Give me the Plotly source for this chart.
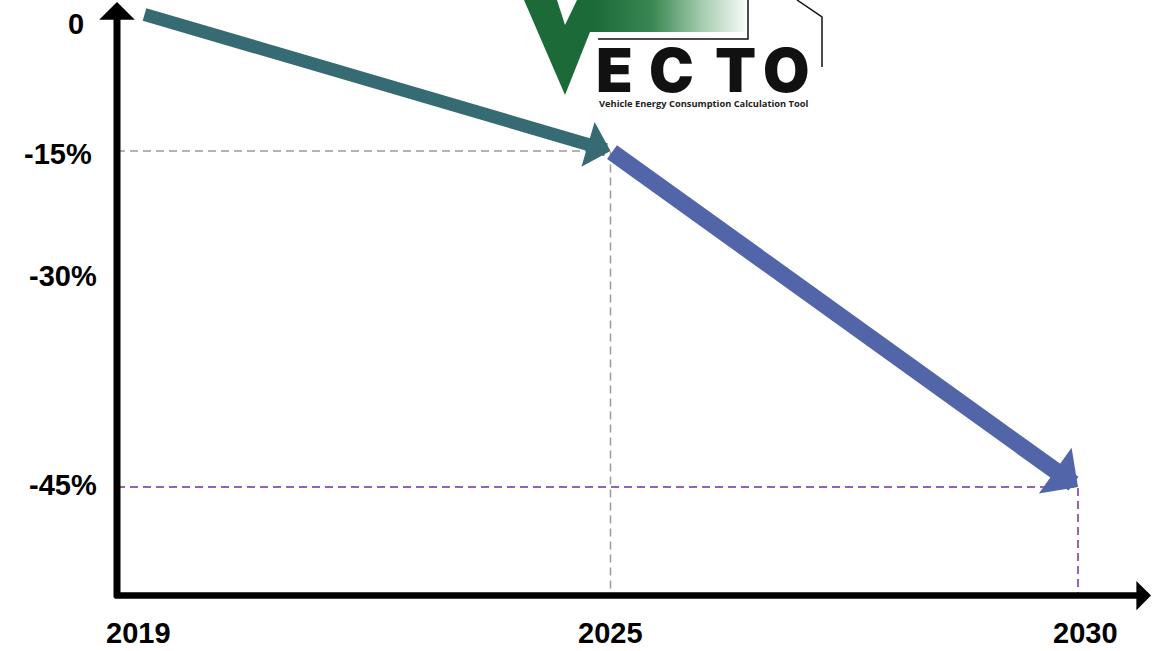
import plotly.graph_objects as go

# ---------------- data ----------------
years = ["2019", "2025", "2030"]
reduction_pct = [0, -15, -45]
y_tick_text = ["0", "-15%", "-30%", "-45%"]
logo_letters = ["E", "C", "T", "O"]
logo_subtitle = "Vehicle Energy Consumption Calculation Tool"

# ---------------- layout / style ----------------
W, H = 1165, 651
TEAL = "#376b74"
BLUE = "#5265a9"
GREY = "#9a9a9a"
PURPLE = "#7030a0"
GREEN = "#1b6a38"
FONT = "Arial, Liberation Sans, sans-serif"

X_RANGE = [-0.0556, 2.1861]      # category index axis
Y1_RANGE = [-63.67, 1.533]       # scale used for 2019 -> 2025 segment
Y2_RANGE = [-54.69, -1.518]      # scale used for 2025 -> 2030 segment

# label placement (pixel positions on the canvas)
y_label_pos = [(76, 24), (58, 154), (63, 276), (63, 485)]
year_label_y = 633
year_label_shift = [-4, 0, 7]
letter_x = [614, 671, 735, 786]

xi = list(range(len(years)))

fig = go.Figure()

# dashed guide lines
fig.add_trace(go.Scatter(
    x=[X_RANGE[0], xi[1], xi[1]], y=[reduction_pct[1], reduction_pct[1], Y2_RANGE[0]],
    xaxis="x", yaxis="y2", mode="lines",
    line=dict(color=GREY, width=1.5, dash="8px,5px"), hoverinfo="skip"))
fig.add_trace(go.Scatter(
    x=[X_RANGE[0], xi[2], xi[2]], y=[reduction_pct[2], reduction_pct[2], Y2_RANGE[0]],
    xaxis="x", yaxis="y2", mode="lines",
    line=dict(color=PURPLE, width=1.5, dash="8px,5px"), hoverinfo="skip"))

# logo: V with gradient band
fig.add_trace(go.Scatter(
    x=[524, 557, 565, 577, 745, 745, 590, 565, 524],
    y=[0, 0, 25, 0, 0, 32, 32, 95, 0],
    xaxis="x3", yaxis="y3", mode="lines", fill="toself",
    line=dict(width=0, color="rgba(0,0,0,0)"),
    fillgradient=dict(type="horizontal",
                      colorscale=[[0, GREEN], [0.32, GREEN], [0.58, "#3a8751"],
                                  [0.80, "#a3caac"], [1, "#f5f9f6"]]),
    hoverinfo="skip"))

annotations = []

# data arrows
annotations.append(dict(
    x=xi[2], y=reduction_pct[2], xref="x", yref="y2",
    ax=xi[1], ay=reduction_pct[1], axref="x", ayref="y2",
    showarrow=True, arrowhead=1, arrowsize=0.55, arrowwidth=17,
    arrowcolor=BLUE, text=""))
annotations.append(dict(
    x=xi[1], y=reduction_pct[1], xref="x", yref="y",
    ax=xi[0], ay=reduction_pct[0], axref="x", ayref="y",
    showarrow=True, arrowhead=1, arrowsize=0.6, arrowwidth=13,
    arrowcolor=TEAL, text=""))

# axis arrows
annotations.append(dict(
    x=117 / W, y=1 - 2 / H, xref="paper", yref="paper", ax=0, ay=597,
    showarrow=True, arrowhead=1, arrowsize=0.85, arrowwidth=7,
    arrowcolor="black", text=""))
annotations.append(dict(
    x=1151 / W, y=1 - 595.5 / H, xref="paper", yref="paper", ax=-1038, ay=0,
    showarrow=True, arrowhead=1, arrowsize=0.75, arrowwidth=6.5,
    arrowcolor="black", text=""))

# y labels
for txt, (px, py) in zip(y_tick_text, y_label_pos):
    annotations.append(dict(
        x=px, y=py, xref="x3", yref="y3", text="<b>%s</b>" % txt, showarrow=False,
        xanchor="center", yanchor="middle",
        font=dict(family=FONT, size=29, color="black")))

# year labels
for i, (yr, sh) in enumerate(zip(years, year_label_shift)):
    annotations.append(dict(
        x=xi[i], y=year_label_y, xref="x", yref="y3", xshift=sh,
        text="<b>%s</b>" % yr, showarrow=False, xanchor="center", yanchor="middle",
        font=dict(family=FONT, size=29, color="black")))

# logo letters
for L, lx in zip(logo_letters, letter_x):
    annotations.append(dict(
        x=lx, y=70, xref="x3", yref="y3", text=L, showarrow=False,
        xanchor="center", yanchor="middle",
        font=dict(family="Inter, DejaVu Sans, sans-serif", size=60, color="#111111",
                  weight=900)))
annotations.append(dict(
    x=703, y=103, xref="x3", yref="y3", text="<b>%s</b>" % logo_subtitle, showarrow=False,
    xanchor="center", yanchor="middle",
    font=dict(family="Open Sans, sans-serif", size=9.3, color="#222222")))

shapes = [
    dict(type="path", xref="x3", yref="y3", path="M598,39 L748,39 L748,0",
         line=dict(color="#111111", width=1.5)),
    dict(type="path", xref="x3", yref="y3", path="M797,0 L822,17 L822,67",
         line=dict(color="#111111", width=1.5)),
]

fig.update_layout(
    width=W, height=H, margin=dict(l=0, r=0, t=0, b=0),
    paper_bgcolor="white", plot_bgcolor="rgba(0,0,0,0)", showlegend=False,
    xaxis=dict(domain=[117 / W, 1], range=X_RANGE, visible=False, anchor="y"),
    yaxis=dict(domain=[(H - 595.5) / H, 1], range=Y1_RANGE, visible=False, anchor="x"),
    yaxis2=dict(overlaying="y", range=Y2_RANGE, visible=False, anchor="x"),
    xaxis3=dict(domain=[0, 1], range=[0, W], visible=False, anchor="y3"),
    yaxis3=dict(domain=[0, 1], range=[H, 0], visible=False, anchor="x3"),
    annotations=annotations, shapes=shapes,
)

fig.write_html("out.html", config={"displayModeBar": False},
               post_script="document.body.style.margin='0';document.body.style.overflow='hidden';")
